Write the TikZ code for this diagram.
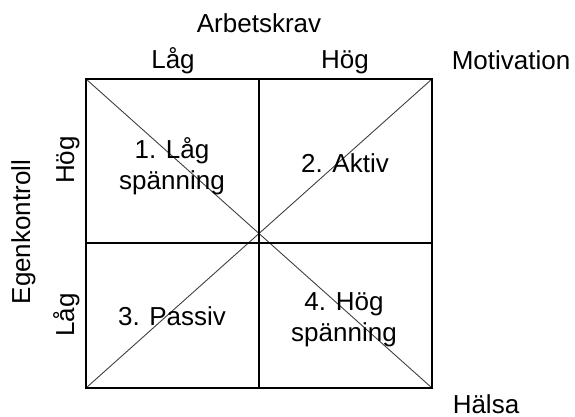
\documentclass[tikz,border=0pt]{standalone}
\usepackage{fontspec}
\setmainfont{Liberation Sans}
\begin{document}
\begin{tikzpicture}[x=1pt,y=-1pt,
  lbl/.style={font=\fontsize{26}{31}\selectfont, inner sep=0pt, anchor=base},
  cell/.style={font=\fontsize{26}{31}\selectfont, inner sep=0pt, align=center, anchor=base},
  grid/.style={line width=2pt},
  diag/.style={line width=0.9pt, black!75}]
\useasboundingbox (0,0) rectangle (575,417);
% grid corners
\coordinate (tl) at (86,79);
\coordinate (tr) at (432,79);
\coordinate (bl) at (86,388);
\coordinate (br) at (432,388);
\coordinate (tm) at (259,79);
\coordinate (bm) at (259,388);
\coordinate (lm) at (86,243);
\coordinate (rm) at (432,243);
% diagonals
\draw[diag] (tl) -- (br);
\draw[diag] (bl) -- (tr);
% grid
\draw[grid] (tl) rectangle (br);
\draw[grid] (tm) -- (bm);
\draw[grid] (lm) -- (rm);
% labels
\node[lbl] (arb) at (259,33) {Arbetskrav};
\node[lbl] (lagT) at (173,69) {Låg};
\node[lbl] (hogT) at (345,69) {Hög};
\node[lbl] (mot) at (511,70) {Motivation};
\node[lbl] (hal) at (486,413) {Hälsa};
\node[lbl, rotate=90] (ego) at (30,232) {Egenkontroll};
\node[lbl, rotate=90] (hogL) at (74,160) {Hög};
\node[lbl, rotate=90] (lagL) at (74,315) {Låg};
% cells (base = last line's baseline)
\node[cell] (c1) at (172,189) {1. Låg\\spänning};
\node[cell] (c2) at (345,172) {2. Aktiv};
\node[cell] (c3) at (172,325) {3. Passiv};
\node[cell] (c4) at (344,341) {4. Hög\\spänning};
\end{tikzpicture}
\end{document}
